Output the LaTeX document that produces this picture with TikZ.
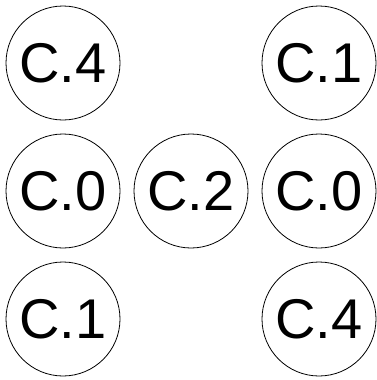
\documentclass[tikz,border=0pt]{standalone}
\usepackage{fontspec}
\setmainfont{Liberation Sans}
\usepackage{tikz}
\usetikzlibrary{positioning}
\tikzset{
  x=1pt, y=1pt,
  cell/.style={draw, circle, line width=0.8pt, minimum size=114pt, inner sep=0pt, font=\fontsize{56}{56}\selectfont},
}

\begin{document}
\begin{tikzpicture}
    \useasboundingbox (0,0) rectangle (376,-380);
    \node[cell] (c4a) at (63,-63)   {C.4};
    \node[cell] (c1a) at (319,-63)  {C.1};
    \node[cell] (c0a) at (63,-191)  {C.0};
    \node[cell] (c2)  at (191,-191) {C.2};
    \node[cell] (c0b) at (319,-191) {C.0};
    \node[cell] (c1b) at (63,-319)  {C.1};
    \node[cell] (c4b) at (319,-319) {C.4};
\end{tikzpicture}
\end{document}
